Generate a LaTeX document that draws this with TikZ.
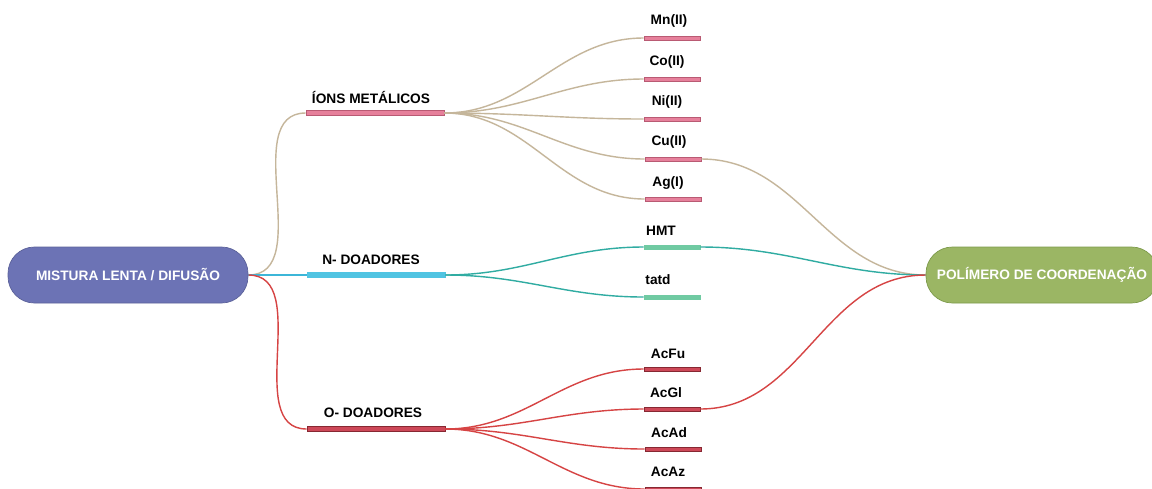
\documentclass[tikz,border=0pt]{standalone}
\usepackage{fontspec}
\setmainfont{Liberation Sans}
\usepackage{tikz}
\definecolor{hubblue}{RGB}{108,115,181}
\definecolor{hubgreen}{RGB}{155,182,100}
\definecolor{hubgreenb}{RGB}{125,155,75}
\definecolor{pinkf}{RGB}{230,128,155}
\definecolor{pinkd}{RGB}{185,90,115}
\definecolor{cyanf}{RGB}{80,196,226}
\definecolor{mintf}{RGB}{112,202,162}
\definecolor{redf}{RGB}{205,72,88}
\definecolor{redd}{RGB}{135,40,50}
\definecolor{tanl}{RGB}{197,182,155}
\definecolor{teall}{RGB}{48,172,162}
\definecolor{redl}{RGB}{214,68,68}
\definecolor{cyanl}{RGB}{60,182,216}

\begin{document}
\begin{tikzpicture}[x=0.02cm,y=-0.02cm,
    hub/.style={rounded corners=15pt,minimum height=1.12cm,inner sep=2pt,
      font=\fontsize{7.8}{9}\selectfont\bfseries,text=white},
    bar/.style={draw,minimum width=1.12cm,minimum height=0.08cm,inner sep=0pt,line width=0.4pt},
    bigbar/.style={draw,minimum width=2.76cm,minimum height=0.1cm,inner sep=0pt,line width=0.4pt},
    lbl/.style={font=\fontsize{7.8}{9}\selectfont\bfseries,inner sep=1pt},
    lnk/.style={line width=0.8pt}]
  \useasboundingbox[fill=white] (0,0) rectangle (1152,488);
  \node[hub,fill=hubblue,draw=hubblue!85!black,minimum width=4.8cm] (mix) at (128,275) {MISTURA LENTA / DIFUSÃO};
  \node[hub,fill=hubgreen,draw=hubgreenb,minimum width=4.64cm] (poly) at (1042,275) {POLÍMERO DE COORDENAÇÃO};
  \node[bigbar,fill=pinkf,draw=pinkd] (ions) at (375,113) {};
  \node[bigbar,fill=cyanf,draw=cyanf] (ndon) at (376,275) {};
  \node[bigbar,fill=redf,draw=redd] (odon) at (376,429) {};
  \node[lbl] (ionsl) at (371,97) {ÍONS METÁLICOS};
  \node[lbl] (ndonl) at (371,260) {N- DOADORES};
  \node[lbl] (odonl) at (373,413) {O- DOADORES};
  \node[bar,fill=pinkf,draw=pinkd] (mn) at (672,38) {};
  \node[bar,fill=pinkf,draw=pinkd] (co) at (672,79) {};
  \node[bar,fill=pinkf,draw=pinkd] (ni) at (672,119) {};
  \node[bar,fill=pinkf,draw=pinkd] (cu) at (673,159) {};
  \node[bar,fill=pinkf,draw=pinkd] (ag) at (673,199) {};
  \node[bar,fill=mintf,draw=mintf] (hmt) at (672,247) {};
  \node[bar,fill=mintf,draw=mintf] (tatd) at (672,297) {};
  \node[bar,fill=redf,draw=redd] (acfu) at (672,369) {};
  \node[bar,fill=redf,draw=redd] (acgl) at (672,409) {};
  \node[bar,fill=redf,draw=redd] (acad) at (673,449) {};
  \node[bar,fill=redf,draw=redd] (acaz) at (673,489) {};
  \node[lbl] (mnl) at (669,21) {Mn(II)};
  \node[lbl] (col) at (667,62) {Co(II)};
  \node[lbl] (nil) at (667,102) {Ni(II)};
  \node[lbl] (cul) at (669,142) {Cu(II)};
  \node[lbl] (agl) at (668,183) {Ag(I)};
  \node[lbl] (hmtl) at (661,231) {HMT};
  \node[lbl] (tatdl) at (658,280) {tatd};
  \node[lbl] (acful) at (668,354) {AcFu};
  \node[lbl] (acgll) at (666,393) {AcGl};
  \node[lbl] (acadl) at (669,433) {AcAd};
  \node[lbl] (acazl) at (668,472) {AcAz};
  \draw[lnk,tanl] (mix.east) to[out=0,in=180] (ions.west);
  \draw[lnk,cyanl] (mix.east) -- (ndon.west);
  \draw[lnk,redl] (mix.east) to[out=0,in=180] (odon.west);
  \draw[lnk,tanl] (ions.east) to[out=0,in=180] (mn.west);
  \draw[lnk,tanl] (ions.east) to[out=0,in=180] (co.west);
  \draw[lnk,tanl] (ions.east) to[out=0,in=180] (ni.west);
  \draw[lnk,tanl] (ions.east) to[out=0,in=180] (cu.west);
  \draw[lnk,tanl] (ions.east) to[out=0,in=180] (ag.west);
  \draw[lnk,teall] (ndon.east) to[out=0,in=180] (hmt.west);
  \draw[lnk,teall] (ndon.east) to[out=0,in=180] (tatd.west);
  \draw[lnk,redl] (odon.east) to[out=0,in=180] (acfu.west);
  \draw[lnk,redl] (odon.east) to[out=0,in=180] (acgl.west);
  \draw[lnk,redl] (odon.east) to[out=0,in=180] (acad.west);
  \draw[lnk,redl] (odon.east) to[out=0,in=180] (acaz.west);
  \draw[lnk,tanl] (cu.east) to[out=0,in=180] (poly.west);
  \draw[lnk,teall] (hmt.east) to[out=0,in=180] (poly.west);
  \draw[lnk,redl] (acgl.east) to[out=0,in=180] (poly.west);
\end{tikzpicture}
\end{document}
